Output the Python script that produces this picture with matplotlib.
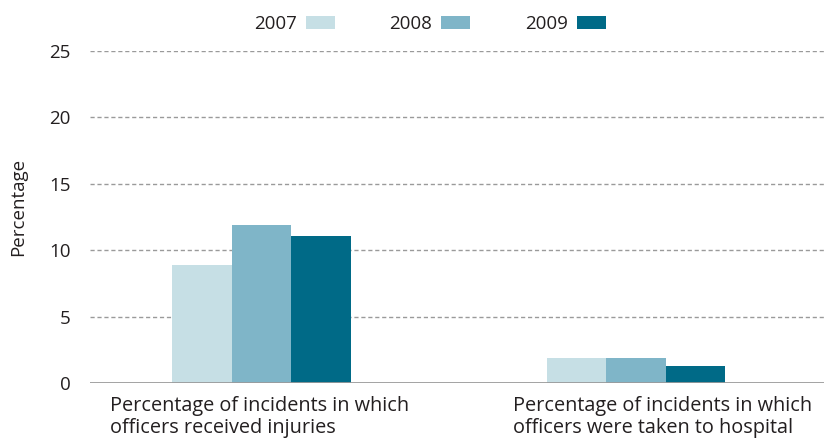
import matplotlib
matplotlib.use("Agg")
import matplotlib.pyplot as plt
import numpy as np

plt.rcParams['font.family'] = ['Open Sans', 'DejaVu Sans']

categories = ["Percentage of incidents in which\nofficers received injuries",
              "Percentage of incidents in which\nofficers were taken to hospital"]
years = ["2007", "2008", "2009"]
values = {
    "2007": [8.9, 1.9],
    "2008": [11.9, 1.9],
    "2009": [11.1, 1.3],
}
colors = ["#c6dfe5", "#7fb5c8", "#006a87"]
yticks = [0, 5, 10, 15, 20, 25]

text_color = "#231f20"
grid_color = "#9a9a9a"

fig = plt.figure(figsize=(8.24, 4.41), dpi=100)
ax = fig.add_axes([90 / 824, 1 - 383 / 441, 1 - 90 / 824, (383 - 51) / 441])

x = np.arange(len(categories))
width = 0.159
handles = []
for i, (yr, col) in enumerate(zip(years, colors)):
    b = ax.bar(x + (i - 1) * width, values[yr], width=width, color=col,
               label=yr, zorder=3)
    handles.append(b)

ax.set_xlim(-0.458, 1.502)
ax.set_ylim(0, 25)
ax.set_yticks(yticks)
ax.set_yticklabels([str(t) for t in yticks], fontsize=13.5, color=text_color)
for t in yticks[1:]:
    ax.axhline(t, color=grid_color, lw=1.0, ls=(0, (3, 2)), zorder=1)
ax.axhline(0, color=grid_color, lw=2.0, zorder=4)

ax.set_xticks([])
ax.tick_params(axis="y", length=0, pad=14)
for s in ax.spines.values():
    s.set_visible(False)

ax.set_ylabel("Percentage", fontsize=13.5, color=text_color)
ax.yaxis.set_label_coords(-0.085, 0.53)

# Category labels, left-aligned below each group
label_x = [-0.4045, 0.6716]
for lx, cat in zip(label_x, categories):
    ax.text(lx, -0.04, cat, transform=ax.get_xaxis_transform(),
            ha="left", va="top", fontsize=14.3, color=text_color,
            linespacing=1.12)

leg = fig.legend(handles=handles, labels=years, loc="center",
                 bbox_to_anchor=(430 / 824, 1 - 24 / 441), ncol=3,
                 frameon=False, markerfirst=False, fontsize=13.5,
                 handlelength=1.55, handleheight=0.7, handletextpad=0.48,
                 columnspacing=2.9, labelcolor=text_color)

fig.savefig("out.png", dpi=100)
